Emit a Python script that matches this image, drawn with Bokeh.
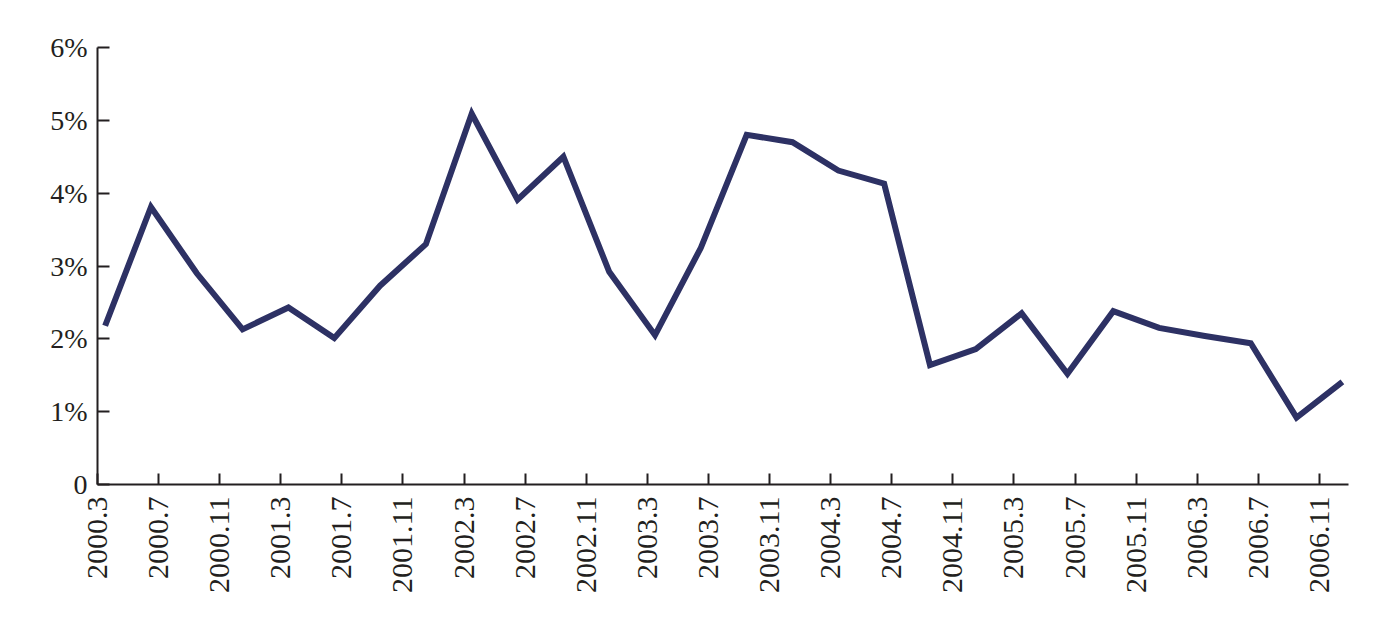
import math
from bokeh.plotting import figure
from bokeh.models import FixedTicker, Range1d
from bokeh.embed import file_html
from bokeh.resources import INLINE

# Quarterly observations (months since 2000.3)
months = [0, 3, 6, 9, 12, 15, 18, 21, 24, 27, 30, 33, 36, 39,
          42, 45, 48, 51, 54, 57, 60, 63, 66, 69, 72, 75, 78, 81]
values = [2.18, 3.81, 2.90, 2.13, 2.43, 2.01, 2.73, 3.30, 5.09, 3.91, 4.50, 2.92, 2.05, 3.25,
          4.80, 4.70, 4.31, 4.13, 1.64, 1.86, 2.35, 1.52, 2.38, 2.15, 2.04, 1.94, 0.92, 1.41]

tick_months = [0, 4, 8, 12, 16, 20, 24, 28, 32, 36, 40, 44, 48, 52, 56, 60, 64, 68, 72, 76, 80]
tick_labels = ["2000.3", "2000.7", "2000.11", "2001.3", "2001.7", "2001.11", "2002.3",
               "2002.7", "2002.11", "2003.3", "2003.7", "2003.11", "2004.3", "2004.7",
               "2004.11", "2005.3", "2005.7", "2005.11", "2006.3", "2006.7", "2006.11"]
y_ticks = [0, 1, 2, 3, 4, 5, 6]
y_labels = ["0", "1%", "2%", "3%", "4%", "5%", "6%"]

# month bands: tick at start of band, observation at band centre
x_pts = [m + 0.5 for m in months]
x_ticks = [float(t) for t in tick_months]

p = figure(width=1377, height=626, output_backend="svg", toolbar_location=None,
           x_range=Range1d(0, 81.9), y_range=Range1d(0, 6),
           min_border_left=97, min_border_right=29, min_border_top=47, min_border_bottom=142)
p.outline_line_color = None
p.xgrid.visible = False
p.ygrid.visible = False
p.background_fill_color = "white"
p.border_fill_color = "white"

p.line(x_pts, values, line_color="#2d3164", line_width=6, line_join="miter")

font = "Liberation Serif"
ax = p.xaxis[0]
ax.ticker = FixedTicker(ticks=x_ticks)
ax.major_label_overrides = {x: l for x, l in zip(x_ticks, tick_labels)}
ax.major_label_orientation = math.pi / 2
ax.major_label_text_font = font
ax.major_label_text_font_size = "30px"
ax.major_label_text_color = "#231f20"
ax.major_label_standoff = 12
ax.major_tick_in = 11
ax.major_tick_out = 0
ax.minor_tick_line_color = None
ax.axis_line_width = 2
ax.major_tick_line_width = 2
ax.axis_line_color = "#231f20"
ax.major_tick_line_color = "#231f20"

ay = p.yaxis[0]
ay.ticker = FixedTicker(ticks=y_ticks)
ay.major_label_overrides = {y: l for y, l in zip(y_ticks, y_labels)}
ay.major_label_text_font = font
ay.major_label_text_font_size = "28px"
ay.major_label_text_color = "#231f20"
ay.major_label_standoff = 10
ay.major_tick_in = 12
ay.major_tick_out = 0
ay.minor_tick_line_color = None
ay.axis_line_width = 2
ay.major_tick_line_width = 2
ay.axis_line_color = "#231f20"
ay.major_tick_line_color = "#231f20"

open("out.html", "w").write(file_html(p, INLINE))
